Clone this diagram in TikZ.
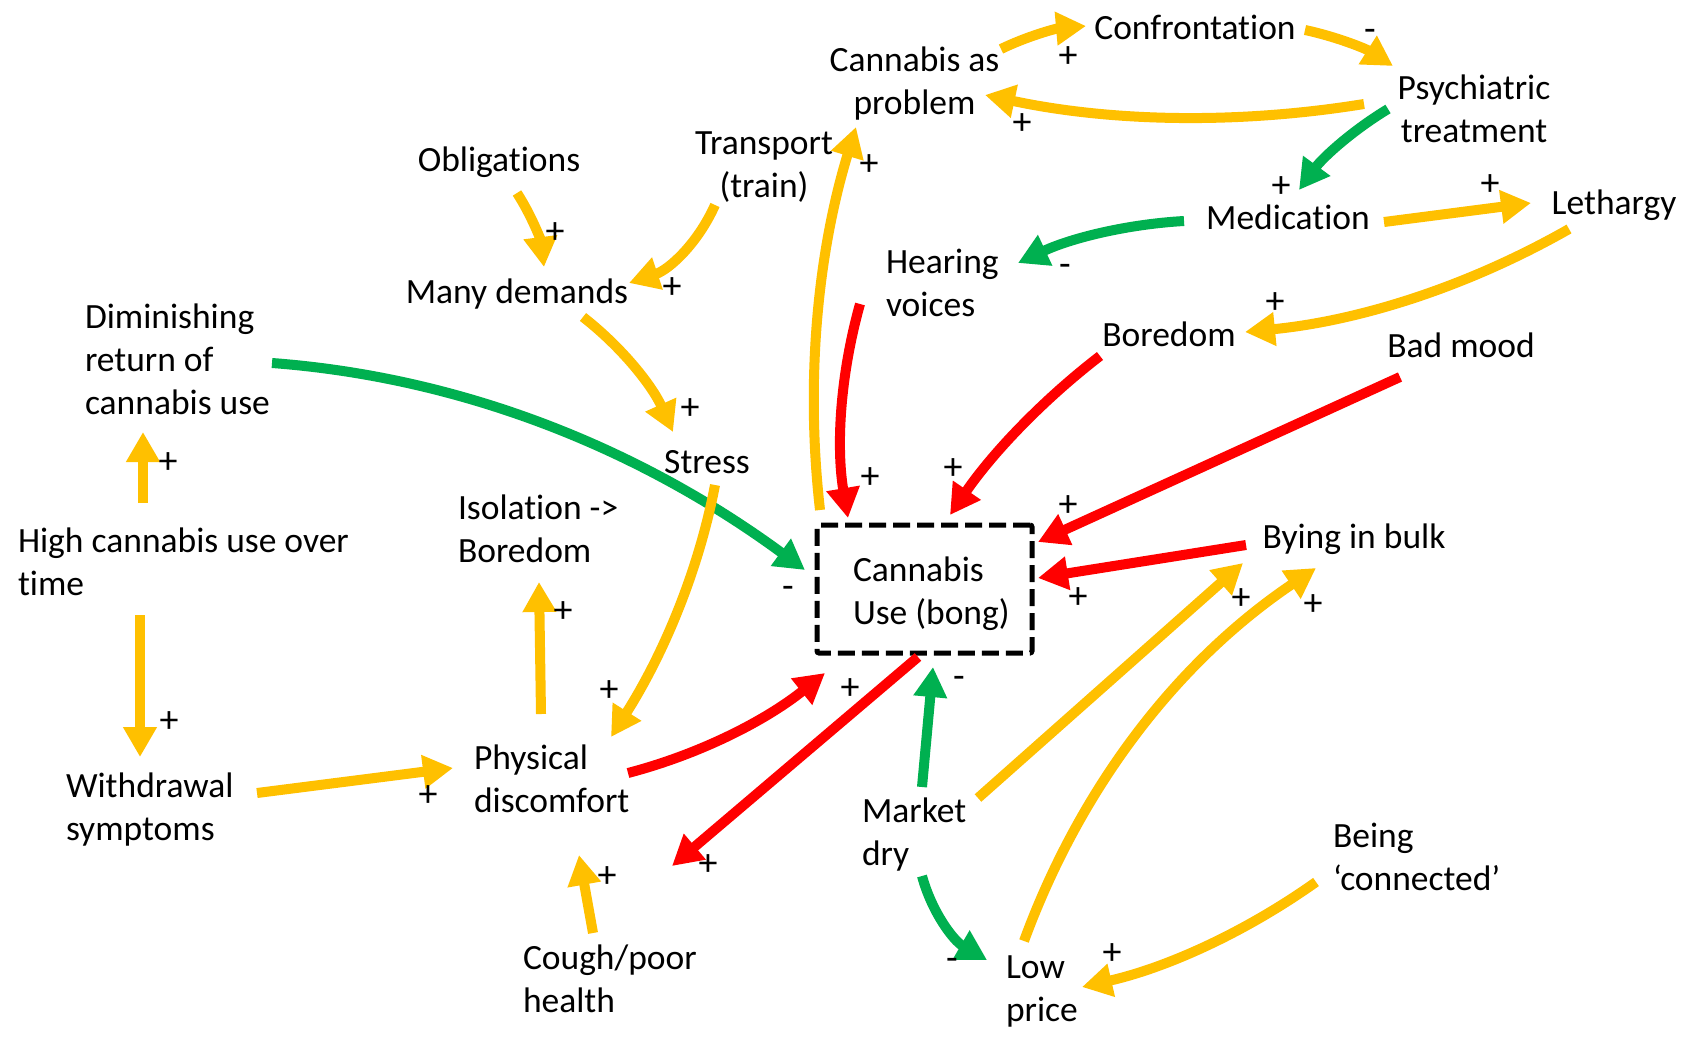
\documentclass[tikz,border=0pt]{standalone}
\usepackage{fontspec}
\setmainfont{Carlito}[Ligatures={NoCommon,NoContextual,NoRequired}]
\usetikzlibrary{arrows.meta,calc}
\definecolor{cyel}{HTML}{FFC000}
\definecolor{cgrn}{HTML}{00B050}
\definecolor{cred}{HTML}{FF0000}
% stacked lines whose baseline is the first line
\newcommand\txtlines[2]{\begin{tabular}[t]{@{}#1@{}}#2\end{tabular}}
\begin{document}
\begin{tikzpicture}[x=1pt,y=-1pt,
  every node/.style={font=\fontsize{35.5}{43}\selectfont, inner sep=0pt, outer sep=0pt},
  txt/.style={anchor=base, yshift=-1.5pt},
  txtw/.style={anchor=base west, yshift=-1.5pt},
  sgn/.style={anchor=center, font=\fontsize{38}{43}\selectfont, text height=0.62em, text depth=0pt, yshift=-8pt},
  link/.style={line width=10pt, -{Triangle[width=32pt,length=30pt]}},
  ylw/.style={link, color=cyel},
  grn/.style={link, color=cgrn},
  redl/.style={link, color=cred},
  usebox/.style={draw=black, line width=5pt, dash pattern=on 17pt off 7pt,
    rounded corners=2pt, minimum width=215pt, minimum height=128pt}]

\fill[white] (0,0) rectangle (1691,1038);
\useasboundingbox (0,0) rectangle (1691,1038);

% ---------- factors ----------
\node[txt]  (prob)   at (914.5,70)  {\txtlines{c}{Cannabis as\\problem}};
\node[txt]  (conf)   at (1195,38)   {\txtlines{c}{Confrontation}};
\node[txt]  (psy)    at (1474,98)   {\txtlines{c}{Psychiatric\\treatment}};
\node[txt]  (trans)  at (764,153)   {\txtlines{c}{Transport\\(train)}};
\node[txt]  (obl)    at (499,170)   {\txtlines{c}{Obligations}};
\node[txt]  (med)    at (1288,228)  {\txtlines{c}{Medication}};
\node[txt]  (leth)   at (1614,213)  {\txtlines{c}{Lethargy}};
\node[txtw] (hear)   at (886,272)   {\txtlines{l}{Hearing\\voices}};
\node[txt]  (md)     at (517,302)   {\txtlines{c}{Many demands}};
\node[txt]  (bored)  at (1169,345)  {\txtlines{c}{Boredom}};
\node[txt]  (bad)    at (1461,356)  {\txtlines{c}{Bad mood}};
\node[txtw] (dim)    at (85,327)    {\txtlines{l}{Diminishing\\return of\\cannabis use}};
\node[txt]  (stress) at (707,471.5) {\txtlines{c}{Stress}};
\node[txtw] (iso)    at (458,518)   {\txtlines{l}{Isolation ->\\Boredom}};
\node[txtw] (high)   at (18,551)    {\txtlines{l}{High cannabis use over\\time}};
\node[usebox] (use)  at (924.5,589) {};
\node[txtw] (usetxt) at (853,580)   {\txtlines{l}{Cannabis\\Use (bong)}};
\node[txt]  (bulk)   at (1354,547)  {\txtlines{c}{Bying in bulk}};
\node[txtw] (phys)   at (474,768)   {\txtlines{l}{Physical\\discomfort}};
\node[txtw] (withd)  at (66,796)    {\txtlines{l}{Withdrawal\\symptoms}};
\node[txtw] (mkt)    at (862,821)   {\txtlines{l}{Market\\dry}};
\node[txtw] (conn)   at (1333,846)  {\txtlines{l}{Being\\‘connected’}};
\node[txtw] (cough)  at (523,967.5) {\txtlines{l}{Cough/poor\\health}};
\node[txtw] (low)    at (1006,977)  {\txtlines{l}{Low\\price}};

% ---------- connector ends ----------
\coordinate (prob-o1) at (1001,49);   \coordinate (conf-i)  at (1086,26);
\coordinate (conf-o)  at (1305,30);   \coordinate (psy-i)   at (1393,66);
\coordinate (psy-o1)  at (1364,104);  \coordinate (prob-i1) at (985,95);
\coordinate (psy-o2)  at (1388,109);  \coordinate (med-i)   at (1299,190);
\coordinate (med-o1)  at (1384,222);  \coordinate (leth-i)  at (1531,203);
\coordinate (med-o2)  at (1184,221);  \coordinate (hear-i)  at (1018,263);
\coordinate (leth-o)  at (1569,229);  \coordinate (bored-i) at (1245,332);
\coordinate (trans-o) at (715,205);   \coordinate (md-i1)   at (629,283);
\coordinate (obl-o)   at (517,193);   \coordinate (md-i2)   at (544,267);
\coordinate (md-o)    at (583,317);   \coordinate (stress-i) at (673,432);
\coordinate (use-o1)  at (820,510);   \coordinate (prob-i2) at (856,127);
\coordinate (hear-o)  at (860,304);   \coordinate (use-i1)  at (848,518);
\coordinate (bored-o) at (1100,356);  \coordinate (use-i2)  at (950,515);
\coordinate (bad-o)   at (1400,377);  \coordinate (use-i3)  at (1038,542);
\coordinate (bulk-o)  at (1246,545);  \coordinate (use-i4)  at (1038,578);
\coordinate (dim-o)   at (272,363);   \coordinate (use-i5)  at (805,570);
\coordinate (stress-o) at (715,485);  \coordinate (phys-i1) at (611,737);
\coordinate (phys-o1) at (541,714);   \coordinate (iso-i)   at (539,582);
\coordinate (high-o1) at (143,503);   \coordinate (dim-i)   at (143,432);
\coordinate (high-o2) at (140,615);   \coordinate (withd-i) at (140,757);
\coordinate (withd-o) at (257,793);   \coordinate (phys-i2) at (453,768);
\coordinate (phys-o2) at (628,773);   \coordinate (use-i6)  at (825,673);
\coordinate (use-o2)  at (918,657);   \coordinate (cough-i) at (672,866);
\coordinate (cough-o) at (593,933);   \coordinate (phys-i3) at (579,855);
\coordinate (mkt-o1)  at (922,787);   \coordinate (use-i7)  at (933,667);
\coordinate (mkt-o2)  at (978,798);   \coordinate (bulk-i1) at (1243,563);
\coordinate (mkt-o3)  at (922,876);   \coordinate (low-i1)  at (987,960);
\coordinate (low-o)   at (1024,941);  \coordinate (bulk-i2) at (1316,568);
\coordinate (conn-o)  at (1316,882);  \coordinate (low-i2)  at (1082,987);

% ---------- bend points of the curved links ----------
\coordinate (k1)  at (1040,30);   \coordinate (k2)  at (1352,40);
\coordinate (k3)  at (1173,135);  \coordinate (k4)  at (1335,141);
\coordinate (k6)  at (1097,226);  \coordinate (k7)  at (1418,315);
\coordinate (k8)  at (689,263);   \coordinate (k9)  at (539,227);
\coordinate (k10) at (642,363);   \coordinate (k11) at (798,317);
\coordinate (k12) at (830,411);   \coordinate (k13) at (1013,423);
\coordinate (k16) at (552,384);   \coordinate (k17) at (691,611);
\coordinate (k22) at (735,745);   \coordinate (k27) at (937,931);
\coordinate (k28) at (1110,707);  \coordinate (k29) at (1209,958);

% quadratic link from #2 to #4 bending toward #3
\newcommand\qlink[4]{\draw[#1] (#2) .. controls ($(#2)!2/3!(#3)$) and ($(#4)!2/3!(#3)$) .. (#4);}

% ---------- links ----------
\qlink{ylw}{prob-o1}{k1}{conf-i}
\qlink{ylw}{conf-o}{k2}{psy-i}
\qlink{ylw}{psy-o1}{k3}{prob-i1}
\qlink{grn}{psy-o2}{k4}{med-i}
\draw[ylw]  (med-o1) -- (leth-i);
\qlink{grn}{med-o2}{k6}{hear-i}
\qlink{ylw}{leth-o}{k7}{bored-i}
\qlink{ylw}{trans-o}{k8}{md-i1}
\qlink{ylw}{obl-o}{k9}{md-i2}
\qlink{ylw}{md-o}{k10}{stress-i}
\qlink{ylw}{use-o1}{k11}{prob-i2}
\qlink{redl}{hear-o}{k12}{use-i1}
\qlink{redl}{bored-o}{k13}{use-i2}
\draw[redl] (bad-o) -- (use-i3);
\draw[redl] (bulk-o) -- (use-i4);
\qlink{grn}{dim-o}{k16}{use-i5}
\qlink{ylw}{stress-o}{k17}{phys-i1}
\draw[ylw]  (phys-o1) -- (iso-i);
\draw[ylw]  (high-o1) -- (dim-i);
\draw[ylw]  (high-o2) -- (withd-i);
\draw[ylw]  (withd-o) -- (phys-i2);
\qlink{redl}{phys-o2}{k22}{use-i6}
\draw[redl] (use-o2) -- (cough-i);
\draw[ylw]  (cough-o) -- (phys-i3);
\draw[grn]  (mkt-o1) -- (use-i7);
\draw[ylw]  (mkt-o2) -- (bulk-i1);
\qlink{grn}{mkt-o3}{k27}{low-i1}
\qlink{ylw}{low-o}{k28}{bulk-i2}
\qlink{ylw}{conn-o}{k29}{low-i2}

% ---------- polarity signs ----------
\node[sgn] (s1)  at (1068,56)  {+};
\node[sgn] (s2)  at (1370,30)  {-};
\node[sgn] (s3)  at (1022,123) {+};
\node[sgn] (s4)  at (1281,186) {+};
\node[sgn] (s5)  at (1490,184) {+};
\node[sgn] (s6)  at (1065,265) {-};
\node[sgn] (s7)  at (1275,302) {+};
\node[sgn] (s8)  at (672,287)  {+};
\node[sgn] (s9)  at (555,232)  {+};
\node[sgn] (s10) at (690,408)  {+};
\node[sgn] (s11) at (869,164)  {+};
\node[sgn] (s12) at (870,477)  {+};
\node[sgn] (s13) at (953,468)  {+};
\node[sgn] (s14) at (1068,505) {+};
\node[sgn] (s15) at (1078,597) {+};
\node[sgn] (s16) at (788,587)  {-};
\node[sgn] (s17) at (609,690)  {+};
\node[sgn] (s18) at (563,611)  {+};
\node[sgn] (s19) at (168,462)  {+};
\node[sgn] (s20) at (169,721)  {+};
\node[sgn] (s21) at (428,795)  {+};
\node[sgn] (s22) at (850,688)  {+};
\node[sgn] (s23) at (708,864)  {+};
\node[sgn] (s24) at (607,876)  {+};
\node[sgn] (s25) at (959,677)  {-};
\node[sgn] (s26) at (1241,598) {+};
\node[sgn] (s27) at (952,959)  {-};
\node[sgn] (s28) at (1313,604) {+};
\node[sgn] (s29) at (1112,953) {+};
\end{tikzpicture}
\end{document}
